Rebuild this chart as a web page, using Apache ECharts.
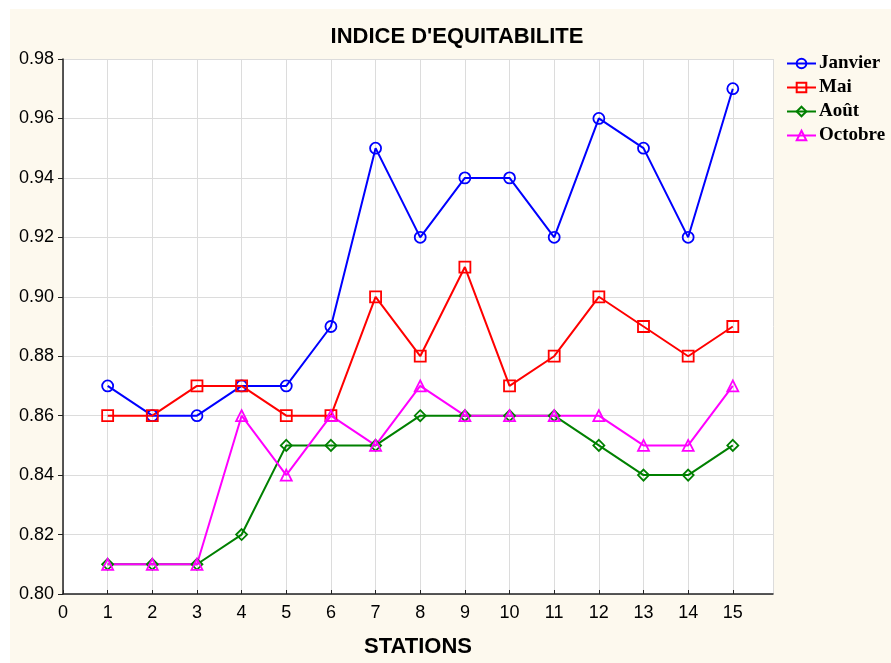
<!DOCTYPE html>
<html lang="fr">
<head>
    <meta charset="UTF-8">
    <title>Indice d'equitabilite</title>
    <script type="text/javascript" src="https://cdn.jsdelivr.net/npm/echarts@6/dist/echarts.min.js"></script>
    <style>
        html, body { margin: 0; padding: 0; background: #ffffff; }
        #frame { position: absolute; left: 10px; top: 9px; width: 881px; height: 654px; background: #fdf9ee; }
        #chart { position: absolute; left: 0; top: 0; width: 891px; height: 663px; }
    </style>
</head>
<body>
    <div id="frame"></div>
    <div id="chart"></div>
    <script type="text/javascript">
        // stations 1..15
        var stations = [1, 2, 3, 4, 5, 6, 7, 8, 9, 10, 11, 12, 13, 14, 15];
        var janvier = [0.87, 0.86, 0.86, 0.87, 0.87, 0.89, 0.95, 0.92, 0.94, 0.94, 0.92, 0.96, 0.95, 0.92, 0.97];
        var mai     = [0.86, 0.86, 0.87, 0.87, 0.86, 0.86, 0.90, 0.88, 0.91, 0.87, 0.88, 0.90, 0.89, 0.88, 0.89];
        var aout    = [0.81, 0.81, 0.81, 0.82, 0.85, 0.85, 0.85, 0.86, 0.86, 0.86, 0.86, 0.85, 0.84, 0.84, 0.85];
        var octobre = [0.81, 0.81, 0.81, 0.86, 0.84, 0.86, 0.85, 0.87, 0.86, 0.86, 0.86, 0.86, 0.85, 0.85, 0.87];

        function pairs(vals) {
            return stations.map(function (s, i) { return [s, vals[i]]; });
        }

        // markers are hollow, the line shows through them
        function serie(name, vals, color, symbol, size) {
            return {
                name: name,
                type: 'line',
                data: pairs(vals),
                symbol: symbol,
                symbolSize: size,
                lineStyle: { color: color, width: 2 },
                itemStyle: { color: 'rgba(255,255,255,0)', borderColor: color, borderWidth: 1.8 },
                emphasis: { disabled: true },
                z: 3
            };
        }

        var myChart = echarts.init(document.getElementById('chart'));
        var option = {
            animation: false,
            title: {
                text: "INDICE D'EQUITABILITE",
                left: 452, top: 21, textAlign: 'center',
                textStyle: { fontFamily: 'Liberation Sans, Arial', fontSize: 22, fontWeight: 'bold', color: '#000' }
            },
            legend: {
                orient: 'vertical',
                left: 781, top: 49,
                itemWidth: 29, itemHeight: 12, itemGap: 5,
                textStyle: { fontFamily: 'Liberation Serif, Times New Roman', fontSize: 19, fontWeight: 'bold', color: '#000', padding: [0, 0, 0, -2] },
                data: ['Janvier', 'Mai', 'Août', 'Octobre']
            },
            grid: { left: 63, top: 59, right: 118, bottom: 66, show: true, backgroundColor: '#ffffff', borderWidth: 0 },
            xAxis: {
                type: 'value',
                min: 0, max: 15.9, interval: 1,
                name: 'STATIONS',
                nameLocation: 'middle',
                nameGap: 42,
                nameTextStyle: { fontFamily: 'Liberation Sans, Arial', fontSize: 22, fontWeight: 'bold', color: '#000' },
                axisLine: { onZero: false, lineStyle: { color: '#222', width: 1.5 } },
                axisTick: { inside: true, length: 4, lineStyle: { color: '#222' } },
                axisLabel: {
                    fontFamily: 'Liberation Sans, Arial', fontSize: 18, color: '#000', margin: 10,
                    showMaxLabel: false,
                    formatter: function (v) { return Number.isInteger(v) ? String(v) : ''; }
                },
                splitLine: { show: true, lineStyle: { color: '#dcdcdc', width: 1 } }
            },
            yAxis: {
                type: 'value',
                min: 0.80, max: 0.98, interval: 0.02,
                axisLine: { show: true, lineStyle: { color: '#222', width: 1.5 } },
                axisTick: { show: true, length: 5, lineStyle: { color: '#222' } },
                axisLabel: {
                    fontFamily: 'Liberation Sans, Arial', fontSize: 18, color: '#000', margin: 9,
                    formatter: function (v) { return v.toFixed(2); }
                },
                splitLine: { show: true, lineStyle: { color: '#dcdcdc', width: 1 } }
            },
            series: [
                serie('Janvier', janvier, '#0000ff', 'circle', 11),
                serie('Mai', mai, '#ff0000', 'rect', 11),
                serie('Août', aout, '#008000', 'diamond', 11),
                serie('Octobre', octobre, '#ff00ff', 'triangle', 11)
            ]
        };
        myChart.setOption(option);
    </script>
</body>
</html>
